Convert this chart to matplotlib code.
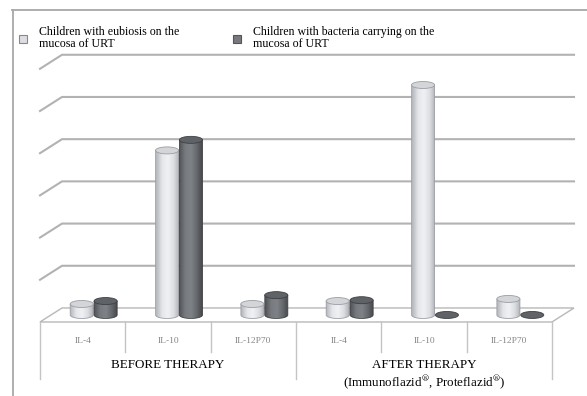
import matplotlib.pyplot as plt
import numpy as np
from matplotlib.patches import Ellipse, Polygon, Rectangle
from matplotlib.colors import LinearSegmentedColormap

plt.rcParams['font.family'] = ['Liberation Serif', 'DejaVu Serif']
plt.rcParams['mathtext.fontset'] = 'stix'

# data
groups = ['BEFORE THERAPY', 'AFTER THERAPY']
group_notes = ['', '(Immunoflazid$^{\\circledR}$, Proteflazid$^{\\circledR}$)']
cytokines = ['IL-4', 'IL-10', 'IL-12P70', 'IL-4', 'IL-10', 'IL-12P70']
eubiosis = [2.6, 39.0, 2.6, 3.3, 54.5, 3.8]
carriers = [3.3, 41.5, 4.7, 3.5, 0.0, 0.0]
series = ['Children with eubiosis on the\nmucosa of URT',
          'Children with bacteria carrying on the\nmucosa of URT']
grid_values = [10, 20, 30, 40, 50, 60]

# pseudo 3d geometry (x in category units, y in value units)
DX = 0.258
DY = 3.32
BAR_W = 0.27
ELL_H = 1.66

light = dict(grad=['#b3b6bb', '#e4e6ea', '#eff1f4', '#dcdee2', '#a9acb1'],
             top='#d3d5d9', edge='#9a9da2')
dark = dict(grad=['#4f5256', '#777a7f', '#7f8286', '#65686c', '#434548'],
            top='#5f6266', edge='#3e4043')

fig = plt.figure(figsize=(5.87, 3.96), dpi=100)
ax = fig.add_axes([0, 0, 1, 1])
ax.set_xlim(-0.4688, 6.4104)
ax.set_ylim(-17.54, 76.30)
ax.axis('off')

n = len(cytokines)

# outer frame
ax.plot([-0.33, 6.5], [73.9, 73.9], color='#a8a8a8', lw=1.3, clip_on=False)
ax.plot([-0.316, -0.316], [73.9, -18], color='#a8a8a8', lw=1.3, clip_on=False)

# floor
floor = Polygon([(0, 0), (n, 0), (n + DX, DY), (DX, DY)], closed=True,
                facecolor='white', edgecolor='#b8b8b8', lw=1.0, zorder=1)
ax.add_patch(floor)

# gridlines on back wall with side stubs
for g in grid_values:
    ax.plot([0, DX, n + DX], [g, g + DY, g + DY], color='#b2b2b2', lw=1.5,
            solid_joinstyle='round', zorder=1)

# table under the floor
for i in range(n + 1):
    bottom = -13.5 if i in (0, 3, n) else -7.1
    ax.plot([i, i], [0, bottom], color='#c4c4c4', lw=1.0, zorder=1)
for i, name in enumerate(cytokines):
    ax.text(i + 0.5, -4.5, name, ha='center', va='center', fontsize=6.8,
            color='#858585')
for k, name in enumerate(groups):
    ax.text(3 * k + 1.5, -10.2, name, ha='center', va='center', fontsize=9.4)
    if group_notes[k]:
        ax.text(3 * k + 1.5, -14.5, group_notes[k], ha='center', va='center',
                fontsize=9.4)


def cylinders(xs, vals, style, z):
    cmap = LinearSegmentedColormap.from_list('shade', style['grad'])
    base = DY / 2
    bars = ax.bar(xs, vals, BAR_W, bottom=base, color='none',
                  edgecolor='none', zorder=z)
    for bar, v in zip(bars, vals):
        x0 = bar.get_x()
        w = bar.get_width()
        xc = x0 + w / 2
        top = bar.get_y() + bar.get_height()
        if v > 0:
            t = np.linspace(np.pi, 2 * np.pi, 30)
            outline = [(x0, top)] + [(xc + w / 2 * np.cos(a), base + ELL_H / 2 * np.sin(a))
                                     for a in t] + [(x0 + w, top)]
            body = Polygon(outline, closed=True, facecolor='none',
                           edgecolor=style['edge'], lw=0.6, zorder=z + 0.2)
            ax.add_patch(body)
            grad = np.linspace(0, 1, 64).reshape(1, -1)
            img = ax.imshow(grad, cmap=cmap, aspect='auto', zorder=z + 0.1,
                            extent=[x0, x0 + w, base - ELL_H / 2, top],
                            interpolation='bicubic')
            img.set_clip_path(body)
        ax.add_patch(Ellipse((xc, top), w, ELL_H, facecolor=style['top'],
                             edgecolor=style['edge'], lw=0.6, zorder=z + 0.3))


centers = np.arange(n) + 0.5 + DX / 2
cylinders(centers - BAR_W / 2 - 0.005, eubiosis, light, 3)
cylinders(centers + BAR_W / 2 + 0.005, carriers, dark, 3)

# legend
ax.add_patch(Rectangle((-0.246, 66.1), 0.094, 1.9, facecolor='#dcdee2',
                       edgecolor='#888888', lw=0.8, zorder=4))
ax.add_patch(Rectangle((2.262, 66.1), 0.094, 1.9, facecolor='#77797d',
                       edgecolor='#555555', lw=0.8, zorder=4))
ax.text(-0.012, 67.3, series[0], ha='left', va='center', fontsize=8.6,
        linespacing=1.1)
ax.text(2.496, 67.3, series[1], ha='left', va='center', fontsize=8.6,
        linespacing=1.1)

fig.savefig('out.png', dpi=100)
